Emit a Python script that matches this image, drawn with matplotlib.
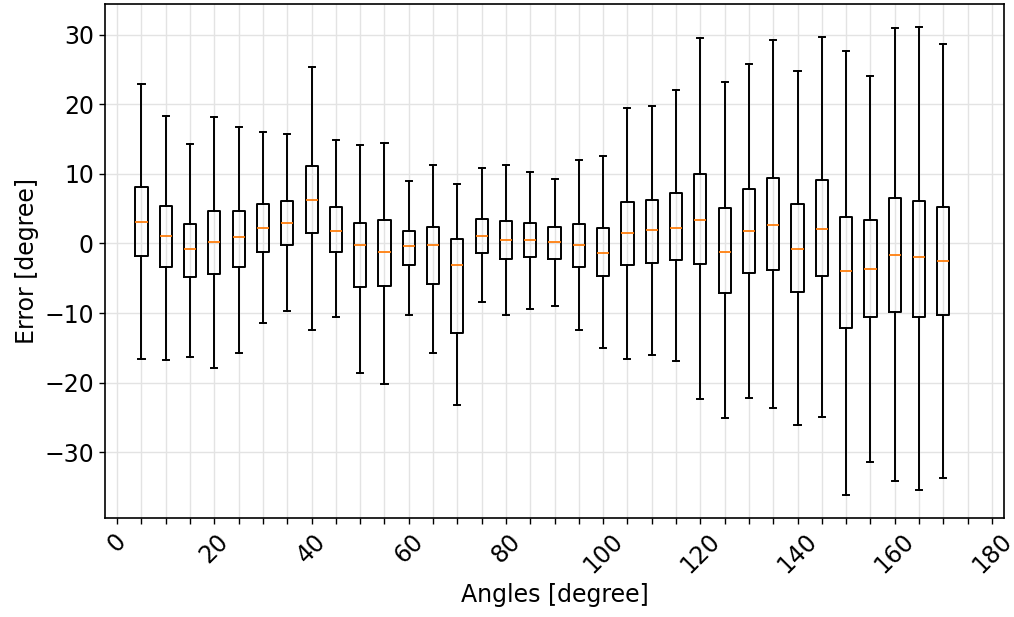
import matplotlib
matplotlib.use("Agg")
import matplotlib.pyplot as plt

# angles of each box [degree]
angles = [5, 10, 15, 20, 25, 30, 35, 40, 45, 50, 55, 60, 65, 70, 75, 80, 85,
          90, 95, 100, 105, 110, 115, 120, 125, 130, 135, 140, 145, 150, 155,
          160, 165, 170]

# box statistics
whis_hi = [22.95, 18.35, 14.3, 18.1, 16.8, 15.95, 15.7, 25.35, 14.9, 14.1, 14.5,
           9.0, 11.2, 8.56, 10.77, 11.34, 10.29, 9.28, 12.0, 12.63, 19.5, 19.68,
           22.0, 29.57, 23.2, 25.8, 29.3, 24.8, 29.7, 27.65, 24.1, 30.96, 31.05,
           28.7]
q3 = [8.08, 5.4, 2.85, 4.68, 4.72, 5.73, 6.16, 11.1, 5.25, 2.9, 3.38, 1.8, 2.33,
      0.69, 3.57, 3.24, 2.95, 2.42, 2.8, 2.23, 5.97, 6.26, 7.31, 10.04, 5.06,
      7.8, 9.42, 5.73, 9.09, 3.77, 3.33, 6.59, 6.12, 5.25]
medians = [3.14, 1.08, -0.84, 0.26, 0.94, 2.27, 3.0, 6.26, 1.75, -0.22, -1.27,
           -0.36, -0.17, -3.05, 1.08, 0.46, 0.46, 0.17, -0.17, -1.32, 1.56, 1.9,
           2.23, 3.38, -1.27, 1.85, 2.66, -0.74, 2.04, -3.96, -3.62, -1.65,
           -1.99, -2.56]
q1 = [-1.84, -3.43, -4.82, -4.39, -3.43, -1.18, -0.22, 1.56, -1.22, -6.3, -6.16,
      -3.1, -5.83, -12.93, -1.32, -2.23, -1.99, -2.18, -3.33, -4.72, -3.1, -2.8,
      -2.42, -3.0, -7.08, -4.24, -3.77, -7.03, -4.63, -12.2, -10.58, -9.86,
      -10.53, -10.29]
whis_lo = [-16.6, -16.8, -16.3, -17.9, -15.7, -11.4, -9.7, -12.5, -10.6, -18.6,
           -20.2, -10.24, -15.76, -23.2, -8.47, -10.24, -9.42, -8.94, -12.5,
           -15.1, -16.6, -16.1, -16.9, -22.4, -25.06, -22.2, -23.7, -26.1,
           -24.96, -36.1, -31.4, -34.2, -35.4, -33.7]

tick_pos = list(range(0, 185, 5))
tick_labels = [str(t) if t % 20 == 0 else "" for t in tick_pos]

plt.rcParams["font.size"] = 17

stats = []
for i in range(len(angles)):
    stats.append({
        "med": medians[i], "q1": q1[i], "q3": q3[i],
        "whislo": whis_lo[i], "whishi": whis_hi[i], "fliers": [],
    })

fig = plt.figure(figsize=(10.14, 6.17), dpi=100)
ax = fig.add_axes([0.1036, 0.1605, 0.8866, 0.833])

ax.bxp(stats, positions=angles, widths=2.5, showfliers=False,
       manage_ticks=False,
       boxprops=dict(color="black", linewidth=1.4),
       whiskerprops=dict(color="black", linewidth=1.4),
       capprops=dict(color="black", linewidth=1.4),
       medianprops=dict(color="#ff7f0e", linewidth=1.3))

ax.set_xlim(-2.5, 182.5)
ax.set_xticks(tick_pos)
ax.set_xticklabels(tick_labels, rotation=45)
ax.set_yticks([-30, -20, -10, 0, 10, 20, 30])
ax.set_yticklabels(["\u221230", "\u221220", "\u221210", "0", "10", "20", "30"])
ax.tick_params(length=4.5, width=1.0)
ax.grid(True, color="#e3e3e3", linewidth=1.0)
ax.set_axisbelow(True)
for s in ax.spines.values():
    s.set_linewidth(1.2)

ax.set_xlabel("Angles [degree]")
ax.set_ylabel("Error [degree]")

fig.savefig("out.png", dpi=100)
